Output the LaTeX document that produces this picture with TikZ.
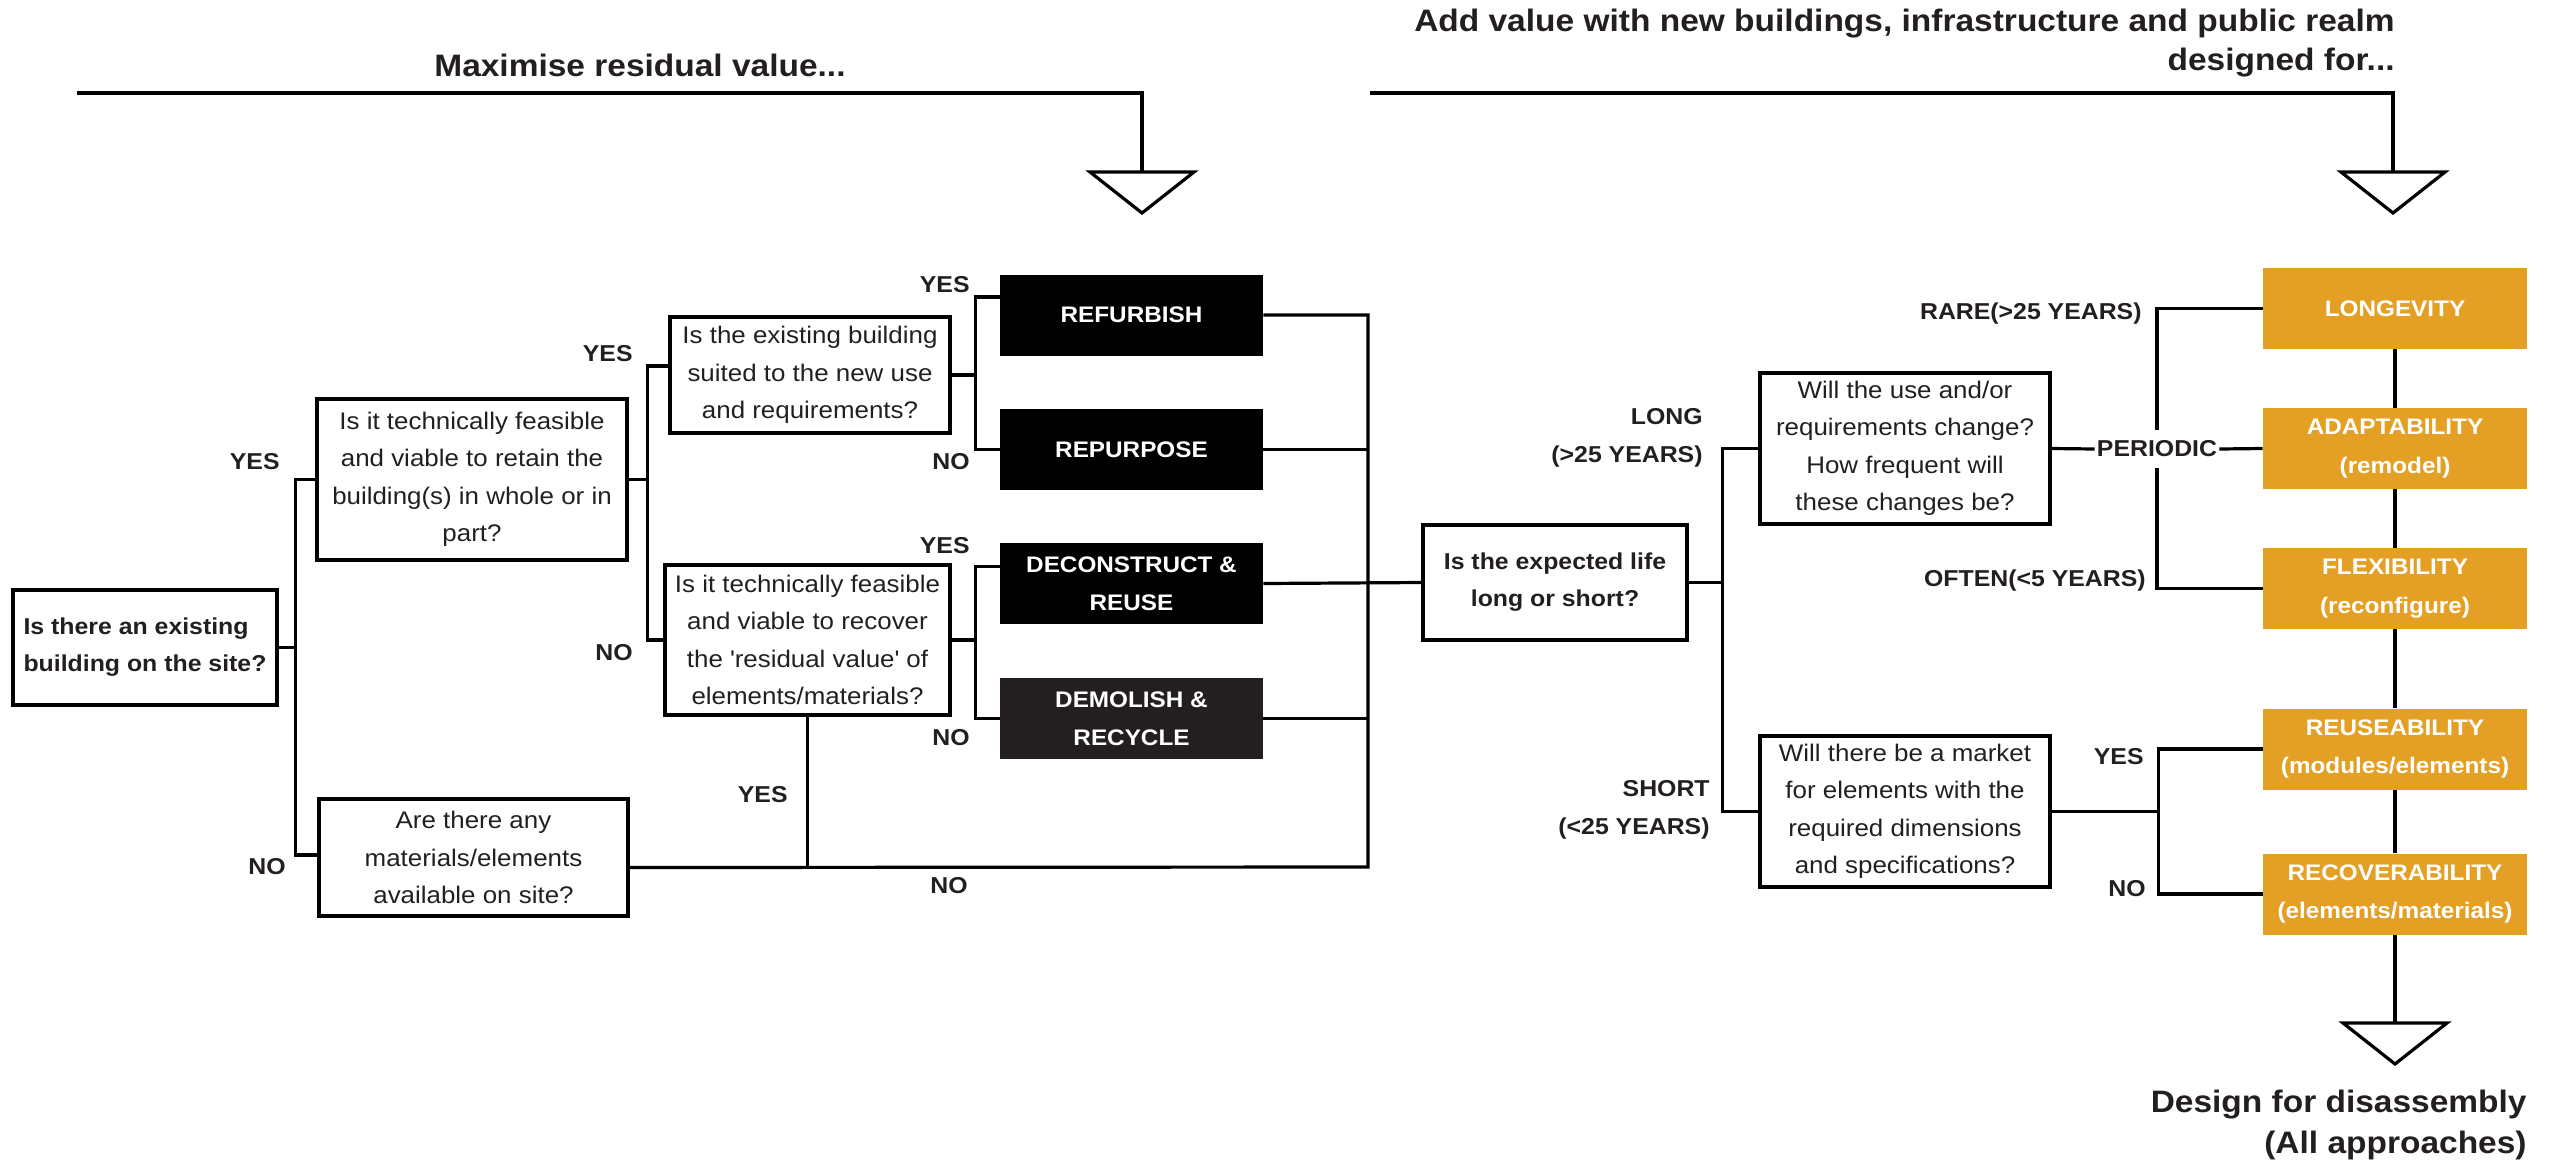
\documentclass[tikz,border=0pt]{standalone}
\usepackage{fontspec}
\setmainfont{Liberation Sans}[FakeStretch=1.08]
\usepackage{tikz}

\definecolor{inkgrey}{HTML}{231F20}
\definecolor{amber}{HTML}{E3A024}
\definecolor{darkbox}{HTML}{231F20}

\newcommand{\questionfont}{\fontsize{12}{18.75}\selectfont}
\newcommand{\boldqfont}{\fontsize{11.5}{18.5}\selectfont\bfseries}
\newcommand{\outfont}{\fontsize{11.25}{19.25}\selectfont\bfseries}
\newcommand{\labfont}{\fontsize{11.5}{19}\selectfont\bfseries}
\newcommand{\headfont}{\fontsize{15.5}{19.5}\selectfont\bfseries}

\begin{document}
\begin{tikzpicture}[x=0.5pt,y=-0.5pt,
  question/.style={draw=black, line width=1.75pt, align=center, inner sep=1pt, text=inkgrey, font=\questionfont},
  outcome/.style={fill=black, text=white, align=center, inner sep=1pt, font=\outfont, minimum width=131.5pt, minimum height=40.5pt},
  design/.style={fill=amber, text=white, align=center, inner sep=1pt, font=\outfont, minimum width=132pt, minimum height=40.5pt},
  lab/.style={anchor=east, inner sep=0pt, text=inkgrey, font=\labfont, align=right},
  head/.style={inner sep=0pt, text=inkgrey, font=\headfont},
  edge/.style={line width=1.6pt},
  rule/.style={line width=1.8pt},
  tri/.style={line width=1.6pt, line join=miter, fill=white}]
\useasboundingbox (0,0) rectangle (2558,1163);

% headings
\node[head] (maxim) at (640,65) {Maximise residual value...};
\node[head, anchor=east, align=right] (addvalue) at (2395,43) {Add value with new buildings, infrastructure and public realm\\designed for...};
\node[head, anchor=east, align=right, font=\fontsize{15.5}{20.5}\selectfont\bfseries] (dfd) at (2527,1125) {Design for disassembly\\(All approaches)};

% questions
\node[question, font=\boldqfont, align=left, minimum width=132pt, minimum height=57.5pt] (exist) at (145,647.5) {Is there an existing\\building on the site?};
\node[question, minimum width=155pt, minimum height=80.5pt] (retain) at (472,479.5) {Is it technically feasible\\and viable to retain the\\building(s) in whole or in\\part?};
\node[question, minimum width=140pt, minimum height=58pt] (suited) at (810,375) {Is the existing building\\suited to the new use\\and requirements?};
\node[question, minimum width=142.5pt, minimum height=75pt] (recover) at (807.5,640) {Is it technically feasible\\and viable to recover\\the \textquotesingle residual value\textquotesingle{} of\\elements/materials?};
\node[question, minimum width=154.5pt, minimum height=58.5pt] (avail) at (473.5,857.5) {Are there any\\materials/elements\\available on site?};
\node[question, font=\boldqfont, minimum width=132pt, minimum height=57.5pt] (life) at (1555,582.5) {Is the expected life\\long or short?};
\node[question, minimum width=145pt, minimum height=75.5pt] (change) at (1905,448.5) {Will the use and/or\\requirements change?\\How frequent will\\these changes be?};
\node[question, minimum width=145pt, minimum height=75.5pt] (market) at (1905,811.5) {Will there be a market\\for elements with the\\required dimensions\\and specifications?};

% outcomes for the existing site
\node[outcome] (refurbish) at (1131.5,315) {REFURBISH};
\node[outcome] (repurpose) at (1131.5,449.5) {REPURPOSE};
\node[outcome] (deconstruct) at (1131.5,583.5) {DECONSTRUCT \&\\REUSE};
\node[outcome, fill=darkbox] (demolish) at (1131.5,718.5) {DEMOLISH \&\\RECYCLE};

% design approaches
\node[design] (longevity) at (2395,308.5) {LONGEVITY};
\node[design] (adaptability) at (2395,448.5) {ADAPTABILITY\\(remodel)};
\node[design] (flexibility) at (2395,588.5) {FLEXIBILITY\\(reconfigure)};
\node[design] (reuseability) at (2395,749) {REUSEABILITY\\(modules/elements)};
\node[design] (recoverability) at (2395,894) {RECOVERABILITY\\(elements/materials)};

% top rules and triangles
\coordinate (leftstart) at (77,93);
\coordinate (downL) at (1142,172);
\coordinate (rightstart) at (1370,93);
\coordinate (downR) at (2393,172);
\coordinate (downB) at (2395,1023);
\draw[rule] (leftstart) -- (downL |- leftstart) -- (downL);
\draw[rule] (rightstart) -- (downR |- rightstart) -- (downR);
\draw[edge] (recoverability.south) -- (downB);
\draw[tri] (downL) ++(-52,0) -- ++(104,0) -- ++(-52,41) -- cycle;
\draw[tri] (downR) ++(-52,0) -- ++(104,0) -- ++(-52,41) -- cycle;
\draw[tri] (downB) ++(-52,0) -- ++(104,0) -- ++(-52,41) -- cycle;

% left tree
\draw[edge] (exist.east) -- ++(17,0) |- (retain.west);
\draw[edge] (exist.east) -- ++(17,0) |- ([yshift=1.25pt]avail.west);
\draw[edge] (retain.east) -- ++(19,0) |- ([yshift=4.5pt]suited.west);
\draw[edge] (retain.east) -- ++(19,0) |- (recover.west);
\draw[edge] (suited.east) -- ++(24,0) |- ([yshift=9pt]refurbish.west);
\draw[edge] (suited.east) -- ++(24,0) |- (repurpose.west);
\draw[edge] (recover.east) -- ++(24,0) |- ([yshift=8.5pt]deconstruct.west);
\draw[edge] (recover.east) -- ++(24,0) |- (demolish.west);

\coordinate (collect) at (1368,867);
\draw[edge] ([yshift=-5pt]avail.east) -- (collect) |- (refurbish.east);
\draw[edge] (repurpose.east) -- (repurpose.east -| collect);
\draw[edge] (demolish.east) -- (demolish.east -| collect);
\draw[edge] (recover.south) -- (recover.south |- collect);
\draw[edge] (deconstruct.east) -- (life.west);

% right tree
\draw[edge] (life.east) -- ++(34,0) |- (change.west);
\draw[edge] (life.east) -- ++(34,0) |- (market.west);
\node[lab, anchor=center, fill=white, inner xsep=1pt, inner ysep=5pt] (periodic) at (2157,449) {PERIODIC};
\draw[edge] (change.east) -- (periodic.west);
\draw[edge] (periodic.east) -- (adaptability.west);
\draw[edge] (periodic.north) |- (longevity.west);
\draw[edge] (periodic.south) |- (flexibility.west);
\draw[edge] (market.east) -- ++(107,0) |- (reuseability.west);
\draw[edge] (market.east) -- ++(107,0) |- (recoverability.west);
\foreach \a/\b in {longevity/adaptability, adaptability/flexibility, flexibility/reuseability, reuseability/recoverability}
  \draw[edge] (\a.south) -- (\b.north);

% branch labels
\node[lab] (yes1) at (280,462) {YES};
\node[lab] (no1) at (286,867) {NO};
\node[lab] (yes2) at (633,354) {YES};
\node[lab] (no2) at (633,653) {NO};
\node[lab] (yes3) at (970,285) {YES};
\node[lab] (no3) at (970,462) {NO};
\node[lab] (yes4) at (970,546) {YES};
\node[lab] (no4) at (970,738) {NO};
\node[lab] (yes5) at (788,795) {YES};
\node[lab, anchor=center] (no5) at (949,886) {NO};
\node[lab] (long) at (1703,438) {LONG\\(>25 YEARS)};
\node[lab] (short) at (1710,810) {SHORT\\(<25 YEARS)};
\node[lab] (rare) at (2142,314) {RARE(>25 YEARS)};
\node[lab] (often) at (2146,581) {OFTEN(<5 YEARS)};
\node[lab] (yes6) at (2144,757) {YES};
\node[lab] (no6) at (2146,889) {NO};
\end{tikzpicture}
\end{document}
